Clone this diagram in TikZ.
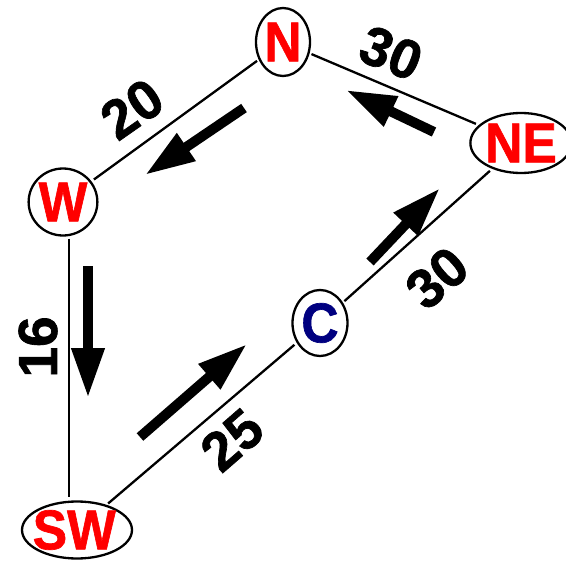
\documentclass[tikz,border=0pt]{standalone}
\usepackage{fontspec}
\setmainfont{Liberation Sans}
\newfontfamily\heavyfont[BoldFeatures={FakeBold=1.2}]{Liberation Sans}
\usetikzlibrary{shapes.geometric,arrows.meta}
\definecolor{nodered}{RGB}{255,0,0}
\definecolor{nodeblue}{RGB}{0,0,128}
\newcommand{\ctext}[1]{\raisebox{-4pt}{\scalebox{0.92}[1]{#1}}}
\tikzset{
  city/.style={ellipse,draw=black,line width=2.3pt,fill=white,inner sep=0pt,
    text=nodered,font=\fontsize{56}{56}\selectfont\heavyfont\bfseries},
  road/.style={line width=2.3pt,shorten <=2pt,shorten >=3pt},
  dist/.style={font=\fontsize{55}{55}\selectfont\heavyfont\bfseries,text=black,inner sep=0pt},
  flow/.style={line width=10pt,-{Triangle[length=50pt,width=31pt]}}
}
\begin{document}
\begin{tikzpicture}[x=1pt,y=-1pt]
\useasboundingbox (0,0) rectangle (566,562);
% nodes
\node[city,minimum width=54pt,minimum height=68pt] (N) at (283,42) {\ctext{N}};
\node[city,minimum width=88pt,minimum height=60pt] (NE) at (521,143) {\ctext{NE}};
\node[city,minimum width=68pt,minimum height=67pt] (W) at (63,202) {\ctext{W}};
\node[city,minimum width=55pt,minimum height=66pt,text=nodeblue] (C) at (320,323) {\ctext{C}};
\node[city,minimum width=110pt,minimum height=57pt] (SW) at (77,530) {\ctext{\hspace*{-6pt}SW}};
% roads
\draw[road] (N) -- (NE);
\draw[road] (N) -- (W);
\draw[road] ([xshift=6pt]W.south) -- ([xshift=-8pt]SW.north);
\draw[road] (SW) -- (C);
\draw[road] (C) -- (NE);
% distance labels
\node[dist,rotate=-22] (l1) at (391,53) {30};
\node[dist,rotate=35] (l2) at (132,109) {20};
\node[dist,rotate=90] (l3) at (38,347) {16};
\node[dist,rotate=41] (l4) at (232,440) {25};
\node[dist,rotate=41] (l5) at (437,278) {30};
% flow arrows
\coordinate (a1s) at (244,108); \coordinate (a1e) at (145,175);
\coordinate (a2s) at (434,132); \coordinate (a2e) at (346,90);
\coordinate (a3s) at (88,266);  \coordinate (a3e) at (88,398);
\coordinate (a4s) at (140,437); \coordinate (a4e) at (247,344);
\coordinate (a5s) at (370,262); \coordinate (a5e) at (440,188);
\draw[flow] (a1s) -- (a1e);
\draw[flow] (a2s) -- (a2e);
\draw[flow] (a3s) -- (a3e);
\draw[flow] (a4s) -- (a4e);
\draw[flow] (a5s) -- (a5e);
\end{tikzpicture}
\end{document}
